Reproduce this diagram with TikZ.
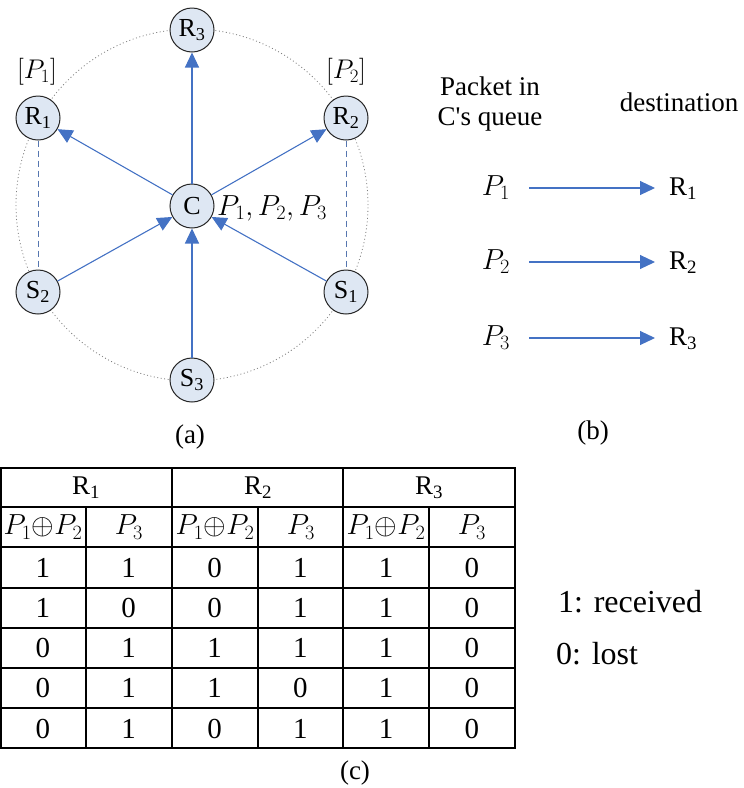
\RequirePackage{fix-cm}
\documentclass[tikz,border=0pt]{standalone}
\usepackage[no-math]{fontspec}
\setmainfont{Liberation Serif}
\usetikzlibrary{arrows.meta}
\definecolor{linkblue}{HTML}{4472C4}
\definecolor{nodefill}{HTML}{DEE7F3}
\tikzset{
  station/.style={circle,draw=black!85,fill=nodefill,line width=1pt,
    minimum size=44pt,inner sep=0pt,font=\fontsize{26}{28}\selectfont},
  link/.style={draw=linkblue,line width=1.1pt,-{Triangle[length=15pt,width=14pt]}},
  pairing/.style={draw=linkblue!70!gray,line width=1pt,dash pattern=on 6pt off 4pt},
  ring/.style={draw=gray,line width=0.8pt,dash pattern=on 1pt off 2.5pt},
  lbl/.style={font=\fontsize{27}{30}\selectfont,inner sep=0pt},
  mlbl/.style={font=\fontsize{29}{32}\selectfont,inner sep=0pt},
  cell/.style={font=\fontsize{29}{32}\selectfont,inner sep=0pt},
  legend/.style={font=\fontsize{32}{36}\selectfont,inner sep=0pt,anchor=west},
  grid/.style={line width=1.8pt},
  flow/.style={inner sep=0pt,text height=20pt,text depth=6pt}
}
\begin{document}
\begin{tikzpicture}[x=1pt,y=-1pt]
\useasboundingbox (0,0) rectangle (744,788);
% (a) relay network
\draw[ring] (192,205) circle[radius=176pt];
\node[station] (C)  at (192,206) {C};
\node[station] (R3) at (192,30)  {R\textsubscript{3}};
\node[station] (R1) at (38,118)  {R\textsubscript{1}};
\node[station] (R2) at (346,118) {R\textsubscript{2}};
\node[station] (S2) at (38,292)  {S\textsubscript{2}};
\node[station] (S1) at (346,292) {S\textsubscript{1}};
\node[station] (S3) at (192,380) {S\textsubscript{3}};
\draw[link] (C) -- (R1);
\draw[link] (C) -- (R2);
\draw[link] (C) -- (R3);
\draw[link] (S1) -- (C);
\draw[link] (S2) -- (C);
\draw[link] (S3) -- (C);
\draw[pairing] (R1) -- (S2);
\draw[pairing] (R2) -- (S1);
\node[lbl] (q1) at (37,72)  {$[P_1]$};
\node[lbl] (q2) at (346,72) {$[P_2]$};
\node[mlbl,anchor=west] (qc) at (217,208) {$P_1, P_2, P_3$};
\node[lbl] (capa) at (190,437) {(a)};
% (b) packets and destinations
\node[lbl,align=center] (hq) at (490,104) {Packet in\\C\textquotesingle s queue};
\node[lbl] (hd) at (679,102) {destination};
\foreach \k/\y in {1/188,2/262,3/338}{
  \node[mlbl,flow] (p\k) at (496,\y) {$P_\k$};
  \node[lbl,flow,anchor=west] (d\k) at (669,\y) {R\textsubscript{\k}};
  \draw[link,shorten <=19pt,shorten >=14pt] (p\k.east) -- (d\k.west);
}
\node[lbl] (capb) at (593,433) {(b)};
% (c) reception table
\draw[grid] (1,468) rectangle (515,748);
\foreach \y in {507,547,588,628,668,708}
  \draw[grid] (1,\y) -- (515,\y);
\foreach \x in {172,343}
  \draw[grid] (\x,468) -- (\x,748);
\foreach \x in {86,258,429}
  \draw[grid] (\x,507) -- (\x,748);
\foreach \k/\x in {1/86,2/258,3/429}{
  \node[lbl] (h\k) at (\x,488) {R\textsubscript{\k}};
  \node[cell] (x\k) at (\x-43,527) {$P_1{\oplus}P_2$};
  \node[cell] (y\k) at (\x+43,527) {$P_3$};
}
\foreach \row [count=\r] in {{1,1,0,1,1,0},{1,0,0,1,1,0},{0,1,1,1,1,0},{0,1,1,0,1,0},{0,1,0,1,1,0}}
  \foreach \v [count=\c] in \row
    \node[cell] (v\r\c) at (85.8*\c-42.9,527.5+40.2*\r) {\v};
\node[lbl] (capc) at (355,773) {(c)};
\node[legend] (k1) at (558,602) {1: received};
\node[legend] (k0) at (556,654) {0: lost};
\end{tikzpicture}
\end{document}
